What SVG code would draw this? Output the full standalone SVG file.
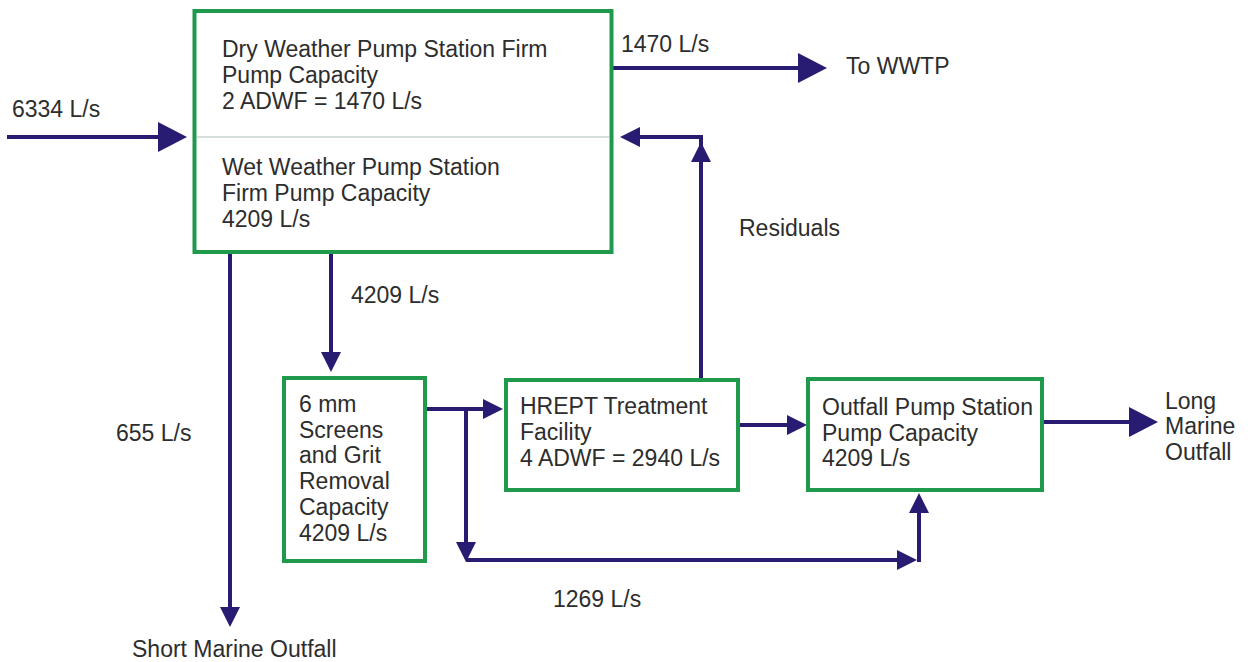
<svg xmlns="http://www.w3.org/2000/svg" width="1252" height="662" viewBox="0 0 1252 662">
  <defs>
    <style>
      .box { fill: #ffffff; stroke: #1f9a4c; stroke-width: 4; }
      .div { stroke: #c9d6cf; stroke-width: 1.5; fill: none; }
      .flow { fill: none; stroke: #271c72; stroke-width: 4; }
      .t { font-family: "Liberation Sans", Arial, sans-serif; font-size: 23px; fill: #2d2d2d; }
    </style>
    <marker id="big" markerUnits="userSpaceOnUse" markerWidth="29" markerHeight="30" refX="19" refY="15" orient="auto">
      <path d="M0,0 L29,15 L0,30 z" fill="#271c72"/>
    </marker>
    <marker id="small" markerUnits="userSpaceOnUse" markerWidth="20" markerHeight="20" refX="10" refY="10" orient="auto">
      <path d="M0,0 L20,10 L0,20 z" fill="#271c72"/>
    </marker>
  </defs>
  <rect width="1252" height="662" fill="#ffffff"/>

  <g id="connectors">
    <path class="flow" d="M7,137 H177" marker-end="url(#big)"/>
    <path class="flow" d="M613,68 H817" marker-end="url(#big)"/>
    <path class="flow" d="M701,380 V137 H630" marker-end="url(#small)"/>
    <path class="flow" d="M701,172 V152" marker-end="url(#small)"/>
    <path class="flow" d="M230,252 V617" marker-end="url(#small)"/>
    <path class="flow" d="M331,254 V362" marker-end="url(#small)"/>
    <path class="flow" d="M424,409 H493" marker-end="url(#small)"/>
    <path class="flow" d="M466,409 V552" marker-end="url(#small)"/>
    <path class="flow" d="M466,560 H907" marker-end="url(#small)"/>
    <path class="flow" d="M919,562 V503" marker-end="url(#small)"/>
    <path class="flow" d="M738,425 H797" marker-end="url(#small)"/>
    <path class="flow" d="M1042,422 H1148" marker-end="url(#big)"/>
  </g>

  <g id="pump-station">
    <rect class="box" x="194.5" y="11" width="417" height="241"/>
    <line class="div" x1="197" y1="137" x2="609" y2="137"/>
    <text class="t" x="222" y="57">Dry Weather Pump Station Firm</text>
    <text class="t" x="222" y="83">Pump Capacity</text>
    <text class="t" x="222" y="109">2 ADWF = 1470 L/s</text>
    <text class="t" x="222" y="175">Wet Weather Pump Station</text>
    <text class="t" x="222" y="201">Firm Pump Capacity</text>
    <text class="t" x="222" y="227">4209 L/s</text>
  </g>

  <g id="screens">
    <rect class="box" x="284" y="378" width="141" height="183"/>
    <text class="t" x="299" y="412">6 mm</text>
    <text class="t" x="299" y="438">Screens</text>
    <text class="t" x="299" y="463">and Grit</text>
    <text class="t" x="299" y="489">Removal</text>
    <text class="t" x="299" y="515">Capacity</text>
    <text class="t" x="299" y="541">4209 L/s</text>
  </g>

  <g id="hrept">
    <rect class="box" x="506" y="380" width="232" height="110"/>
    <text class="t" x="520" y="414">HREPT Treatment</text>
    <text class="t" x="520" y="440">Facility</text>
    <text class="t" x="520" y="466">4 ADWF = 2940 L/s</text>
  </g>

  <g id="outfall-pump">
    <rect class="box" x="808" y="379" width="234" height="111"/>
    <text class="t" x="822" y="415">Outfall Pump Station</text>
    <text class="t" x="822" y="441">Pump Capacity</text>
    <text class="t" x="822" y="466">4209 L/s</text>
  </g>

  <g id="labels">
    <text class="t" x="12" y="117">6334 L/s</text>
    <text class="t" x="621" y="52">1470 L/s</text>
    <text class="t" x="846" y="74">To WWTP</text>
    <text class="t" x="739" y="236">Residuals</text>
    <text class="t" x="351" y="303">4209 L/s</text>
    <text class="t" x="116" y="441">655 L/s</text>
    <text class="t" x="553" y="607">1269 L/s</text>
    <text class="t" x="1165" y="409">Long</text>
    <text class="t" x="1165" y="434">Marine</text>
    <text class="t" x="1165" y="460">Outfall</text>
    <text class="t" x="132" y="657">Short Marine Outfall</text>
  </g>
</svg>
